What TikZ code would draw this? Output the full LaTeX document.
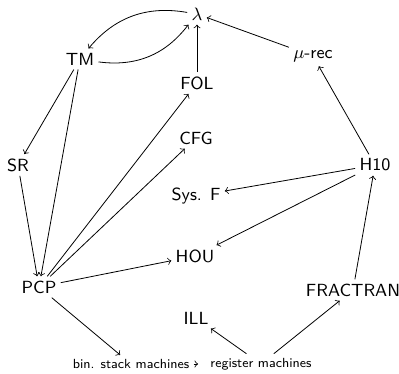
\documentclass[tikz,border=0pt]{standalone}
\usepackage{fontspec}
\begin{document}
\begin{tikzpicture}[x=0.5pt,y=-0.5pt,
  lbl/.style={font=\sffamily\fontsize{8.8}{10}\selectfont, inner sep=2pt},
  small/.style={font=\sffamily\fontsize{6.6}{8}\selectfont, inner sep=2pt},
  conn/.style={->, line width=0.4pt}]
\useasboundingbox (0,0) rectangle (399,373);
\node[lbl] (lam) at (197,14) {$\lambda$};
\node[lbl] (TM) at (80,59) {TM};
\node[lbl] (FOL) at (197,83) {FOL};
\node[lbl] (mu) at (313,56) {$\mu$-rec};
\node[lbl] (CFG) at (196,138) {CFG};
\node[lbl] (SR) at (18,165) {SR};
\node[lbl] (H10) at (375,165) {H10};
\node[lbl] (SysF) at (196,196) {Sys. F};
\node[lbl] (HOU) at (195,256) {HOU};
\node[lbl] (PCP) at (39,287) {PCP};
\node[lbl] (FRAC) at (353,290) {FRACTRAN};
\node[lbl] (ILL) at (196,318) {ILL};
\node[small] (bsm) at (131,364) {bin. stack machines};
\node[small] (rm) at (261,364) {register machines};
\draw[conn] (lam) to[bend right=30] (TM);
\draw[conn] (TM) to[bend right=30] (lam);
\draw[conn] (FOL) -- (lam);
\draw[conn] (mu) -- (lam);
\draw[conn] (H10) -- (mu);
\draw[conn] (TM) -- (SR);
\draw[conn] (TM) -- (PCP);
\draw[conn] (SR) -- (PCP);
\draw[conn] (PCP) -- (FOL);
\draw[conn] (PCP) -- (CFG);
\draw[conn] (PCP) -- (HOU);
\draw[conn] (PCP) -- (bsm);
\draw[conn] (H10) -- (SysF);
\draw[conn] (H10) -- (HOU);
\draw[conn] (FRAC) -- (H10);
\draw[conn] (rm) -- (ILL);
\draw[conn] (rm) -- (FRAC);
\draw[conn, shorten >=4pt] (bsm) -- (rm);
\end{tikzpicture}
\end{document}
